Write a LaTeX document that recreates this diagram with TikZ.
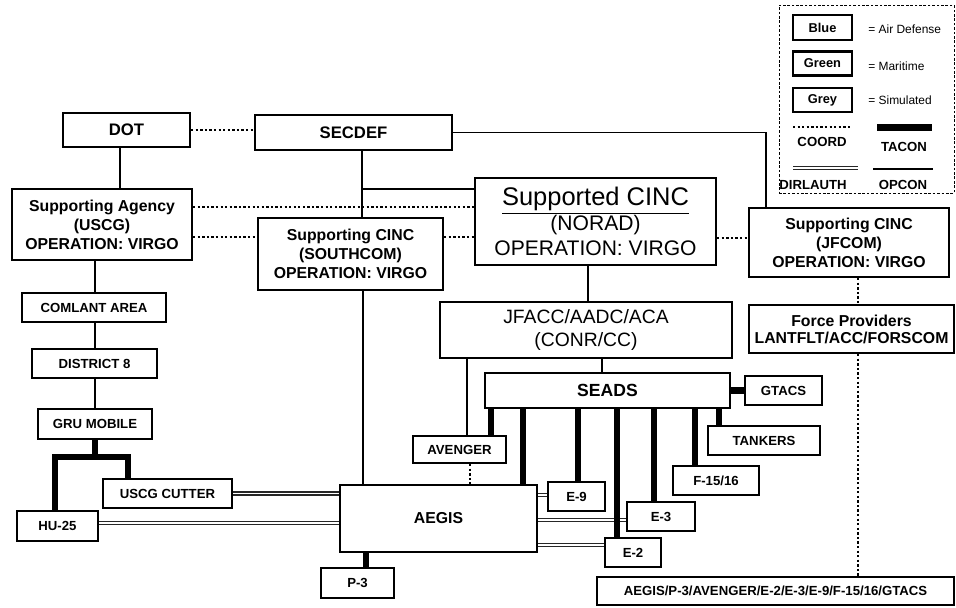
\documentclass[tikz,border=0pt]{standalone}
\usepackage{fontspec}
\setmainfont{Liberation Sans}
\usepackage{tikz}

\tikzset{
  sz/.style 2 args={minimum width=#1*0.02cm, minimum height=#2*0.02cm},
  box/.style={draw, line width=1.3pt, inner sep=0pt, align=center, font=\bfseries\fontsize{9}{10.8}\selectfont},
  unit/.style={box, font=\bfseries\fontsize{7.5}{9}\selectfont},
  opcon/.style={line width=0.8pt},
  tacon/.style={line width=3.6pt},
  coord/.style={line width=1.35pt, dash pattern=on 1.3pt off 1.3pt},
  dirlauth/.style={draw=black!85, double=white, double distance=1.1pt, line width=0.85pt},
  key/.style={font=\fontsize{6.8}{8}\selectfont, anchor=west, inner sep=0pt},
  keytag/.style={font=\bfseries\fontsize{7.5}{9}\selectfont, inner sep=0pt}
}

\begin{document}
\begin{tikzpicture}[x=0.02cm, y=-0.02cm]
  \useasboundingbox (0,0) rectangle (956,608);

  % command chain
  \node[box, sz={127}{34}, font=\bfseries\fontsize{9.5}{11}\selectfont] (dot) at (126.5,130) {DOT};
  \node[box, sz={197}{35}, font=\bfseries\fontsize{9.5}{11}\selectfont] (secdef) at (353.5,132.5) {SECDEF};
  \node[box, sz={180}{71}] (agency) at (102,224.5) {Supporting Agency\\(USCG)\\OPERATION: VIRGO};
  \node[box, sz={185}{72}] (southcom) at (350.5,254) {Supporting CINC\\(SOUTHCOM)\\OPERATION: VIRGO};
  \node[box, sz={241}{87}, font=\fontsize{12}{14.2}\selectfont] (norad) at (595.5,221.5) {{\fontsize{14.5}{17}\selectfont\underline{Supported CINC}}\\(NORAD)\\OPERATION: VIRGO};
  \node[box, sz={200}{69}] (jfcom) at (849,242.5) {Supporting CINC\\(JFCOM)\\OPERATION: VIRGO};
  \node[box, sz={205}{48}, font=\bfseries\fontsize{9}{9.6}\selectfont] (forces) at (851.5,329) {Force Providers\\LANTFLT/ACC/FORSCOM};
  \node[box, sz={292}{56}, font=\fontsize{11}{13}\selectfont] (jfacc) at (586,330) {JFACC/AADC/ACA\\(CONR/CC)};
  \node[box, sz={245}{35}, font=\bfseries\fontsize{10}{12}\selectfont] (seads) at (607.5,390.5) {SEADS};

  % units
  \node[unit, sz={144}{29}] (comlant) at (94,307.5) {COMLANT AREA};
  \node[unit, sz={125}{29}] (district) at (94.5,363.5) {DISTRICT 8};
  \node[unit, sz={114}{30}] (gru) at (95,424) {GRU MOBILE};
  \node[unit, sz={129}{29}] (cutter) at (167.5,493.5) {USCG CUTTER};
  \node[unit, sz={81}{30}] (hu25) at (57.5,526) {HU-25};
  \node[box, sz={197}{67}] (aegis) at (438.5,518.5) {AEGIS};
  \node[unit, sz={73}{30}] (p3) at (357.5,583) {P-3};
  \node[unit, sz={93}{27}] (avenger) at (459.5,449.5) {AVENGER};
  \node[unit, sz={57}{29}] (e9) at (576.5,496.5) {E-9};
  \node[unit, sz={56}{29}] (e2) at (633,552.5) {E-2};
  \node[unit, sz={68}{29}] (e3) at (661,516.5) {E-3};
  \node[unit, sz={86}{29}] (f15) at (716,480.5) {F-15/16};
  \node[unit, sz={112}{29}] (tankers) at (764,440.5) {TANKERS};
  \node[unit, sz={77}{29}] (gtacs) at (783.5,390.5) {GTACS};
  \node[unit, sz={357}{28}] (allunits) at (775.5,591) {AEGIS/P-3/AVENGER/E-2/E-3/E-9/F-15/16/GTACS};

  % opcon
  \draw[opcon] (120,0 |- dot.south) -- (120,0 |- agency.north);
  \draw[opcon] (95,0 |- agency.south) -- (95,0 |- comlant.north);
  \draw[opcon] (95,0 |- comlant.south) -- (95,0 |- district.north);
  \draw[opcon] (95,0 |- district.south) -- (95,0 |- gru.north);
  \coordinate (tee) at (362,189);
  \draw[opcon] (362,0 |- secdef.south) -- (362,0 |- southcom.north);
  \draw[opcon] (tee) -- (tee -| norad.west);
  \draw[opcon] (secdef.east) -| (766,0 |- jfcom.north);
  \draw[opcon] (363,0 |- southcom.south) -- (363,0 |- aegis.north);
  \draw[opcon] (588,0 |- norad.south) -- (588,0 |- jfacc.north);
  \draw[opcon] (602,0 |- jfacc.south) -- (602,0 |- seads.north);
  \draw[opcon] (467,0 |- jfacc.south) -- (467,0 |- avenger.north);

  % coord
  \draw[coord] (dot.east) -- (dot.east -| secdef.west);
  \draw[coord] (agency.east |- 0,207) -- (norad.west |- 0,207);
  \draw[coord] (agency.east |- 0,237) -- (southcom.west |- 0,237);
  \draw[coord] (southcom.east |- 0,237) -- (norad.west |- 0,237);
  \draw[coord] (norad.east |- 0,238) -- (jfcom.west |- 0,238);
  \draw[coord] (858,0 |- jfcom.south) -- (858,0 |- forces.north);
  \draw[coord] (858,0 |- forces.south) -- (858,0 |- allunits.north);
  \draw[coord] (470,0 |- avenger.south) -- (470,0 |- aegis.north);

  % dirlauth
  \draw[dirlauth] (cutter.east) -- (cutter.east -| aegis.west);
  \draw[dirlauth] (hu25.east |- 0,523) -- (aegis.west |- 0,523);
  \draw[dirlauth] (aegis.east |- 0,495) -- (e9.west |- 0,495);
  \draw[dirlauth] (aegis.east |- 0,520) -- (e3.west |- 0,520);
  \draw[dirlauth] (aegis.east |- 0,545) -- (e2.west |- 0,545);

  % tacon
  \foreach \x/\t in {491/avenger,523/aegis,578/e9,617/e2,654/e3,695/f15,719/tankers}
    \draw[tacon] (\x,0 |- seads.south) -- (\x,0 |- \t.north);
  \draw[tacon] (seads.east) -- (gtacs.west);
  \draw[tacon] (366,0 |- aegis.south) -- (366,0 |- p3.north);
  \coordinate (fork) at (95,457);
  \draw[tacon] (gru.south) -- (fork);
  \draw[tacon] (55,0 |- hu25.north) |- (fork) -| (128,0 |- cutter.north);

  % legend
  \node[draw, line width=0.4pt, dash pattern=on 1.5pt off 1pt, sz={175}{188}] (legend) at (866.5,99) {};
  \node[box, sz={59}{25}, font=\bfseries\fontsize{7.3}{9}\selectfont] (blue) at (822.5,27.5) {Blue};
  \node[box, sz={59}{24}, font=\bfseries\fontsize{7.3}{9}\selectfont] (green) at (822.5,63.5) {Green};
  \node[box, sz={59}{24}, font=\bfseries\fontsize{7.3}{9}\selectfont] (grey) at (822.5,100) {Grey};
  \node[key] (bluekey) at (868,29) {= Air Defense};
  \node[key] (greenkey) at (868,66) {= Maritime};
  \node[key] (greykey) at (868,100) {= Simulated};
  \coordinate (k1) at (793,127); \coordinate (k2) at (852,127);
  \coordinate (k3) at (877,127.5); \coordinate (k4) at (932,127.5);
  \coordinate (k5) at (793,168); \coordinate (k6) at (858,168);
  \coordinate (k7) at (873,169); \coordinate (k8) at (933,169);
  \draw[coord] (k1) -- (k2);
  \draw[tacon] (k3) -- (k4);
  \draw[dirlauth] (k5) -- (k6);
  \draw[opcon] (k7) -- (k8);
  \node[keytag] (coordkey) at (822,142) {COORD};
  \node[keytag] (taconkey) at (904,147) {TACON};
  \node[keytag] (dirkey) at (813,185) {DIRLAUTH};
  \node[keytag] (opconkey) at (903,185) {OPCON};
\end{tikzpicture}
\end{document}
